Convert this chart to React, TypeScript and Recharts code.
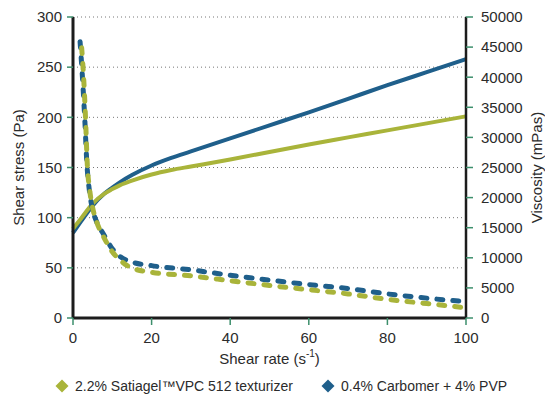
import React from "react";
import {
  LineChart,
  Line,
  XAxis,
  YAxis,
  CartesianGrid,
} from "recharts";

// shear stress (Pa) vs shear rate (1/s), solid lines
const stressRates = [0, 2, 5, 8, 10, 12, 15, 20, 25, 30, 40, 50, 60, 70, 80, 90, 100];
const satiagelStress = [89, 99, 114, 124, 128.5, 132.5, 137, 143, 147.5, 151, 158, 165.5, 173, 180, 187, 194, 201];
const carbomerStress = [85, 96, 112, 124, 130, 135.5, 142.5, 152, 159.5, 166, 179, 192, 205, 218.5, 232, 245, 258];

// viscosity (mPas) vs shear rate, dashed lines
const satiagelViscRates = [2.2, 2.7, 3.2, 3.6, 4.3, 5, 6, 7.7, 10, 12, 15, 20, 30, 40, 50, 60, 70, 80, 90, 100];
const satiagelVisc = [44900, 40000, 33000, 26000, 21000, 18300, 16000, 13600, 11000, 9600, 8300, 7600, 7000, 6200, 5400, 4700, 4000, 3100, 2400, 1700];
const carbomerViscRates = [1.8, 2.4, 3, 3.5, 4.2, 5, 6, 7.7, 10, 12, 15, 20, 30, 40, 50, 60, 70, 80, 90, 100];
const carbomerVisc = [45900, 40000, 33000, 26000, 21000, 18000, 16000, 14000, 11500, 10200, 9300, 8700, 8000, 7100, 6300, 5550, 4900, 4000, 3300, 2700];

const xTicks = [0, 20, 40, 60, 80, 100];
const stressTicks = [0, 50, 100, 150, 200, 250, 300];
const viscTicks = [0, 5000, 10000, 15000, 20000, 25000, 30000, 35000, 40000, 45000, 50000];

const legendItems = [
  { name: "2.2% Satiagel™VPC 512 texturizer", color: "#a9b43a" },
  { name: "0.4% Carbomer + 4% PVP", color: "#1f5f8b" },
];

const GREEN = "#a9b43a";
const BLUE = "#1f5f8b";
const FONT = "'Liberation Sans', Arial, sans-serif";

const zip = (xs: number[], ys: number[]) => xs.map((x, i) => ({ x, y: ys[i] }));

const tickStyle = { fontSize: 15, fill: "#2b2b2b", fontFamily: FONT };

const YTitle = ({ viewBox, text, dx }: any) => {
  const cx = viewBox.x + dx;
  const cy = viewBox.y + viewBox.height / 2;
  return (
    <text
      x={cx}
      y={cy}
      transform={`rotate(-90, ${cx}, ${cy})`}
      textAnchor="middle"
      dominantBaseline="central"
      fontSize={15}
      fill="#2b2b2b"
      fontFamily={FONT}
    >
      {text}
    </text>
  );
};

const XTitle = ({ viewBox }: any) => {
  const cx = viewBox.x + viewBox.width / 2;
  const cy = viewBox.y + 40;
  return (
    <text x={cx} y={cy} textAnchor="middle" dominantBaseline="central" fontSize={15} fill="#2b2b2b" fontFamily={FONT}>
      <tspan>Shear rate (s</tspan>
      <tspan dy={-5} fontSize={10}>-1</tspan>
      <tspan dy={5}>)</tspan>
    </text>
  );
};

export default function App() {
  return (
    <div style={{ position: "absolute", left: 0, top: 0, width: 545, height: 394, background: "#fff" }}>
      <LineChart width={545} height={394} margin={{ top: 17, right: 9, bottom: 31, left: 13 }}>
        <CartesianGrid yAxisId="stress" vertical={false} stroke="#777" strokeDasharray="1 3" />
        <XAxis
          type="number"
          dataKey="x"
          domain={[0, 100]}
          ticks={xTicks}
          height={45}
          tickSize={7}
          tickMargin={7}
          tick={tickStyle}
          axisLine={{ stroke: "#1c1c1c", strokeWidth: 3 }}
          tickLine={{ stroke: "#3d8f6c", strokeWidth: 1.5 }}
          label={<XTitle />}
        />
        <YAxis
          yAxisId="stress"
          domain={[0, 300]}
          ticks={stressTicks}
          width={60}
          tickSize={6}
          tickMargin={5}
          tick={tickStyle}
          axisLine={{ stroke: "#1c1c1c", strokeWidth: 3 }}
          tickLine={{ stroke: "#3d8f6c", strokeWidth: 1.5 }}
          label={<YTitle text="Shear stress (Pa)" dx={5} />}
        />
        <YAxis
          yAxisId="visc"
          orientation="right"
          domain={[0, 50000]}
          ticks={viscTicks}
          width={70}
          tickSize={7}
          tickMargin={8}
          tick={tickStyle}
          axisLine={{ stroke: "#1c1c1c", strokeWidth: 2.5 }}
          tickLine={{ stroke: "#3d8f6c", strokeWidth: 1.5 }}
          label={<YTitle text="Viscosity (mPas)" dx={70} />}
        />
        <Line
          yAxisId="stress"
          data={zip(stressRates, carbomerStress)}
          dataKey="y"
          type="monotone"
          stroke={BLUE}
          strokeWidth={4}
          dot={false}
          activeDot={false}
          isAnimationActive={false}
        />
        <Line
          yAxisId="stress"
          data={zip(stressRates, satiagelStress)}
          dataKey="y"
          type="monotone"
          stroke={GREEN}
          strokeWidth={4}
          dot={false}
          activeDot={false}
          isAnimationActive={false}
        />
        <Line
          yAxisId="visc"
          data={zip(carbomerViscRates, carbomerVisc)}
          dataKey="y"
          type="monotone"
          stroke={BLUE}
          strokeWidth={5}
          strokeDasharray="6 10"
          strokeLinecap="round"
          dot={false}
          activeDot={false}
          isAnimationActive={false}
        />
        <Line
          yAxisId="visc"
          data={zip(satiagelViscRates, satiagelVisc)}
          dataKey="y"
          type="monotone"
          stroke={GREEN}
          strokeWidth={5}
          strokeDasharray="6 10"
          strokeLinecap="round"
          dot={false}
          activeDot={false}
          isAnimationActive={false}
        />
      </LineChart>
      {legendItems.map((item, i) => (
        <div
          key={item.name}
          style={{
            position: "absolute",
            left: i === 0 ? 55 : 321,
            top: 378,
            display: "flex",
            alignItems: "center",
            fontFamily: FONT,
            fontSize: 14,
            color: "#2b2b2b",
            whiteSpace: "nowrap",
          }}
        >
          <svg width={14} height={14} style={{ marginRight: 6 }}>
            <polygon points="7,0.5 13.5,7 7,13.5 0.5,7" fill={item.color} />
          </svg>
          {item.name}
        </div>
      ))}
    </div>
  );
}
